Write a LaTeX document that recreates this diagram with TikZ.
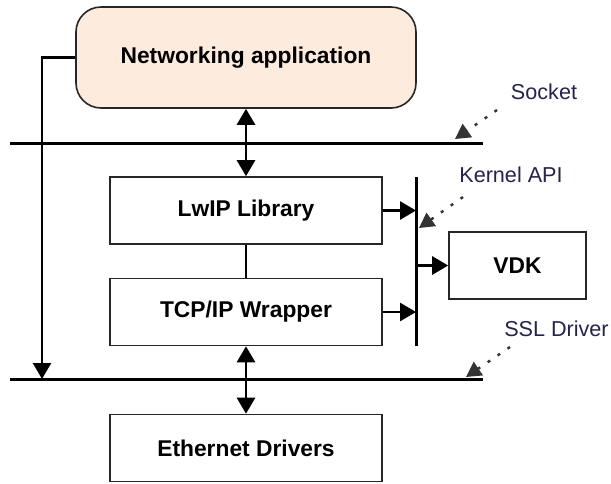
\documentclass[tikz,border=0pt]{standalone}
\usepackage{fontspec}
\setmainfont{Liberation Sans}
\usetikzlibrary{arrows.meta}
\definecolor{appfill}{RGB}{253,236,222}
\definecolor{lblcol}{RGB}{35,35,75}
\begin{document}
\begin{tikzpicture}[x=1pt,y=-1pt,
  box/.style={draw=black!85, line width=1.6pt, minimum width=272pt, minimum height=67pt,
    inner sep=0pt, font=\bfseries\fontsize{22.8}{26}\selectfont},
  bus/.style={line width=3pt},
  tip/.tip={Triangle[length=16pt,width=18pt]},
  darr/.style={line width=2.8pt, tip-tip},
  sarr/.style={line width=2.8pt, -tip},
  larr/.style={line width=2.2pt, -tip},
  dotarr/.style={draw=black!80, line width=2.4pt, dash pattern=on 3pt off 9pt, -{Triangle[length=15pt,width=16pt]}},
  lbl/.style={font=\fontsize{21.6}{25}\selectfont, text=lblcol, inner sep=0pt}
]
\useasboundingbox (0,0) rectangle (611,483);

% boxes
\node[box, fill=appfill, rounded corners=25pt, minimum width=340pt, minimum height=101pt] (app) at (246,57.5) {Networking application};
\node[box] (lwip) at (246,210.5) {LwIP Library};
\node[box] (tcp) at (246,312) {TCP/IP Wrapper};
\node[box] (eth) at (246,448) {Ethernet Drivers};
\node[box, minimum width=137pt] (vdk) at (517.5,265.5) {VDK};

% labels
\node[lbl] (socket) at (544,92) {Socket};
\node[lbl] (kapi) at (511,175) {Kernel API};
\node[lbl] (ssl) at (556.5,329) {SSL Driver};

% buses
\coordinate (sockL) at (10,143);
\coordinate (sockR) at (483,143);
\coordinate (sslL) at (10,379);
\coordinate (sslR) at (483,379);
\coordinate (kbT) at (416,177);
\coordinate (kbB) at (416,346);
\draw[bus] (sockL) -- (sockR);
\draw[bus] (sslL) -- (sslR);
\draw[bus] (kbT) -- (kbB);

% connectors
\draw[darr] (app.south) -- (lwip.north);
\draw[line width=2.8pt] (lwip.south) -- (tcp.north);
\draw[darr] (tcp.south) -- (eth.north);
\draw[sarr] (lwip.east) -- (lwip.east -| kbT);
\draw[sarr] (tcp.east) -- (tcp.east -| kbT);
\draw[sarr] (vdk.west -| kbT) -- (vdk.west);
\coordinate (leftEnd) at (42,379);
\draw[larr] (app.west) -| (leftEnd);

% dotted pointers
\coordinate (sockS) at (497,110);
\coordinate (sockE) at (455,139);
\coordinate (kapiS) at (463,197);
\coordinate (kapiE) at (419,228);
\coordinate (sslS) at (510,347);
\coordinate (sslE) at (466,377);
\draw[dotarr] (sockS) -- (sockE);
\draw[dotarr] (kapiS) -- (kapiE);
\draw[dotarr] (sslS) -- (sslE);
\end{tikzpicture}
\end{document}
